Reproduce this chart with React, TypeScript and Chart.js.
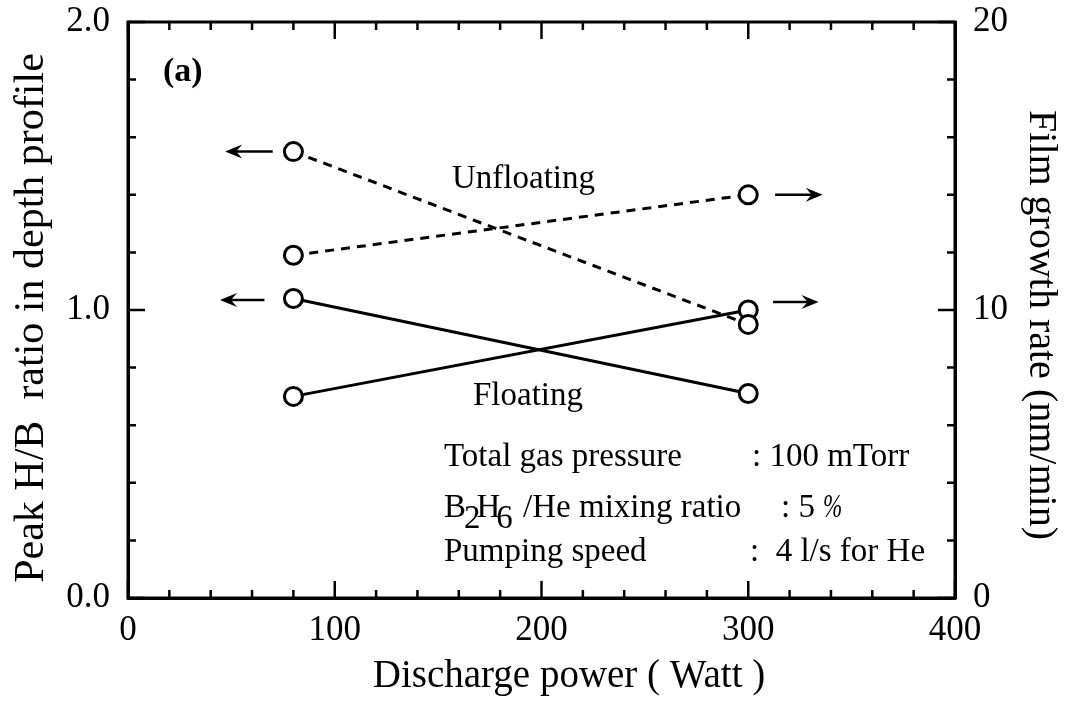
import { useEffect, useRef } from 'react';
import { Chart, registerables } from 'chart.js';

Chart.register(...registerables);

// ---- data ----
const powerW = [80, 300];
const hbUnfloating = [1.55, 0.95];      // left axis, dashed
const growthUnfloating = [11.9, 14.0];  // right axis, dashed
const hbFloating = [1.04, 0.71];        // left axis, solid
const growthFloating = [7.0, 10.0];     // right axis, solid

const xMajorStep = 100;
const yLeftMajor = [0, 1, 2];
const yRightMajor = [0, 10, 20];

// arrows pointing to the axis each curve belongs to (data coordinates)
const arrowAxis = ['y', 'y', 'y2', 'y2'];
const arrowY = [1.55, 1.035, 14.0, 10.28];
const arrowFrom = [70, 66, 313, 312];
const arrowTo = [47, 44.5, 336, 334];

const SERIF = '"Liberation Serif", "Times New Roman", serif';

const toPts = (xs: number[], ys: number[]) => xs.map((x, i) => ({ x, y: ys[i] }));

const decorPlugin = {
  id: 'decor',
  afterDraw(chart: any) {
    const { ctx, chartArea: a, scales } = chart;
    const x = scales.x, y = scales.y, y2 = scales.y2;
    ctx.save();
    ctx.strokeStyle = '#000';
    ctx.fillStyle = '#000';
    ctx.lineWidth = 3;
    ctx.strokeRect(a.left, a.top, a.right - a.left, a.bottom - a.top);

    // inward tick marks
    ctx.lineWidth = 2.5;
    ctx.beginPath();
    for (let v = 0; v <= 400; v += 20) {
      const px = x.getPixelForValue(v);
      const len = v % xMajorStep === 0 ? 17 : 8;
      ctx.moveTo(px, a.bottom); ctx.lineTo(px, a.bottom - len);
      ctx.moveTo(px, a.top); ctx.lineTo(px, a.top + len);
    }
    for (let i = 0; i <= 10; i++) {
      const len = i % 5 === 0 ? 17 : 8;
      const py = y.getPixelForValue(i * 0.2);
      ctx.moveTo(a.left, py); ctx.lineTo(a.left + len, py);
      const py2 = y2.getPixelForValue(i * 2);
      ctx.moveTo(a.right, py2); ctx.lineTo(a.right - len, py2);
    }
    ctx.stroke();

    // arrows
    for (let i = 0; i < arrowY.length; i++) {
      const sc = arrowAxis[i] === 'y' ? y : y2;
      const py = sc.getPixelForValue(arrowY[i]);
      const x0 = x.getPixelForValue(arrowFrom[i]);
      const x1 = x.getPixelForValue(arrowTo[i]);
      const d = Math.sign(x1 - x0);
      ctx.lineWidth = 2.5;
      ctx.beginPath();
      ctx.moveTo(x0, py);
      ctx.lineTo(x1 - d * 8, py);
      ctx.stroke();
      ctx.beginPath();
      ctx.moveTo(x1, py);
      ctx.lineTo(x1 - d * 17, py - 7);
      ctx.lineTo(x1 - d * 11, py);
      ctx.lineTo(x1 - d * 17, py + 7);
      ctx.closePath();
      ctx.fill();
    }

    // annotations
    ctx.textAlign = 'left';
    ctx.textBaseline = 'alphabetic';
    ctx.font = `bold 34px ${SERIF}`;
    ctx.fillText('(a)', 163, 81);
    ctx.font = `33px ${SERIF}`;
    ctx.fillText('Unfloating', 452, 188);
    ctx.fillText('Floating', 473, 405);

    ctx.fillText('Total gas pressure', 444, 466);
    ctx.fillText(': 100 mTorr', 752, 466);

    let bx = 444;
    const by = 517;
    ctx.fillText('B', bx, by);
    bx += ctx.measureText('B').width - 2;
    ctx.fillText('2', bx, by + 11);
    bx += ctx.measureText('2').width - 4;
    ctx.fillText('H', bx, by);
    bx += ctx.measureText('H').width - 4;
    ctx.fillText('6', bx, by + 11);
    bx += ctx.measureText('6').width + 2;
    ctx.fillText(' /He mixing ratio', bx, by);
    ctx.fillText(': 5', 781, by);
    ctx.save();
    ctx.translate(823, by);
    ctx.scale(0.7, 1);
    ctx.font = `italic 33px ${SERIF}`;
    ctx.fillText('%', 0, 0);
    ctx.restore();

    ctx.fillText('Pumping speed', 444, 561);
    ctx.fillText(':  4 l/s for He', 750, 561);

    // axis titles
    ctx.font = `39px ${SERIF}`;
    ctx.textAlign = 'center';
    ctx.fillText('Discharge power ( Watt )', 569, 687);

    ctx.textBaseline = 'middle';
    ctx.save();
    ctx.translate(32, 318);
    ctx.rotate(-Math.PI / 2);
    ctx.font = `42px ${SERIF}`;
    ctx.fillText('Peak H/B  ratio in depth profile', 0, 0);
    ctx.restore();

    ctx.save();
    ctx.translate(1040, 325);
    ctx.rotate(Math.PI / 2);
    ctx.font = `40px ${SERIF}`;
    ctx.fillText('Film growth rate (nm/min)', 0, 0);
    ctx.restore();

    ctx.restore();
  },
};

export default function App() {
  const ref = useRef<HTMLCanvasElement | null>(null);

  useEffect(() => {
    if (!ref.current) return;
    const common = {
      borderColor: '#000',
      borderWidth: 3,
      pointStyle: 'circle',
      pointRadius: 9,
      pointHoverRadius: 9,
      pointBorderWidth: 3,
      pointBackgroundColor: '#fff',
      pointBorderColor: '#000',
      fill: false,
      tension: 0,
      showLine: true,
    };
    const tickFont = { family: SERIF, size: 35 };
    const chart = new Chart(ref.current, {
      type: 'line',
      data: {
        datasets: [
          { ...common, label: 'Unfloating H/B', data: toPts(powerW, hbUnfloating), yAxisID: 'y', borderDash: [9, 7] },
          { ...common, label: 'Unfloating growth', data: toPts(powerW, growthUnfloating), yAxisID: 'y2', borderDash: [9, 7] },
          { ...common, label: 'Floating H/B', data: toPts(powerW, hbFloating), yAxisID: 'y' },
          { ...common, label: 'Floating growth', data: toPts(powerW, growthFloating), yAxisID: 'y2' },
        ] as any,
      },
      options: {
        responsive: false,
        animation: false,
        devicePixelRatio: 1,
        layout: { padding: { top: 22, left: 0, right: 0, bottom: 0 } },
        plugins: { legend: { display: false }, tooltip: { enabled: false }, title: { display: false } },
        scales: {
          x: {
            type: 'linear',
            position: 'bottom',
            min: 0,
            max: 400,
            grid: { display: false, drawTicks: false },
            border: { display: true, color: '#000', width: 3 },
            ticks: {
              stepSize: 20,
              autoSkip: false,
              maxRotation: 0,
              padding: 12,
              color: '#000',
              font: tickFont,
              callback: (v: any) => (Number(v) % xMajorStep === 0 ? String(v) : ''),
            },
            afterFit: (s: any) => { s.height = 106; s.paddingLeft = 0; s.paddingRight = 0; },
          },
          y: {
            type: 'linear',
            position: 'left',
            min: 0,
            max: 2,
            grid: { display: false, drawTicks: false },
            border: { display: true, color: '#000', width: 3 },
            ticks: {
              stepSize: 0.2,
              autoSkip: false,
              padding: 18,
              color: '#000',
              font: tickFont,
              callback: (v: any) => {
                const r = Math.round(Number(v) * 10) / 10;
                return yLeftMajor.includes(r) ? r.toFixed(1) : '';
              },
            },
            afterFit: (s: any) => { s.width = 128; s.paddingTop = 0; s.paddingBottom = 0; },
          },
          y2: {
            type: 'linear',
            position: 'right',
            min: 0,
            max: 20,
            grid: { display: false, drawTicks: false },
            border: { display: true, color: '#000', width: 3 },
            ticks: {
              stepSize: 2,
              autoSkip: false,
              padding: 18,
              color: '#000',
              font: tickFont,
              callback: (v: any) => {
                const r = Math.round(Number(v));
                return yRightMajor.includes(r) ? String(r) : '';
              },
            },
            afterFit: (s: any) => { s.width = 119; s.paddingTop = 0; s.paddingBottom = 0; },
          },
        },
      } as any,
      plugins: [decorPlugin],
    });
    return () => chart.destroy();
  }, []);

  return (
    <div style={{ position: 'absolute', left: 0, top: 0, width: 1074, height: 704, background: '#fff' }}>
      <canvas ref={ref} width={1074} height={704} style={{ display: 'block' }} />
    </div>
  );
}
